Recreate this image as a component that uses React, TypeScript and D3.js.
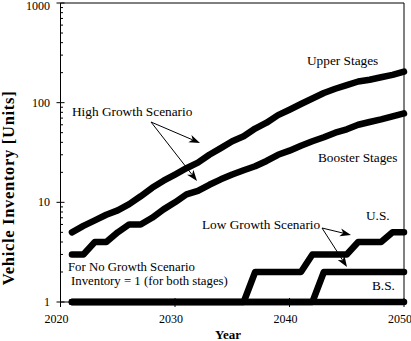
import React from "react";
import * as d3 from "d3";

const years = d3.range(2021, 2051);
const upperStages = [5, 5.8, 6.6, 7.5, 8.3, 9.6, 11.5, 14, 16.5, 19, 22, 25, 30, 35, 41, 46, 55, 63, 75, 85, 97, 110, 125, 138, 150, 163, 170, 180, 190, 205];
const boosterStages = [3, 3, 4, 4, 5, 6, 6, 7, 8.5, 10, 12, 13, 15, 17, 19, 21, 23, 26, 30, 33, 37, 41, 45, 50, 54, 60, 64, 68, 73, 78];
const lowUS = [1, 1, 1, 1, 1, 1, 1, 1, 1, 1, 1, 1, 1, 1, 1, 1, 2, 2, 2, 2, 2, 3, 3, 3, 3, 4, 4, 4, 5, 5];
const lowBS = [1, 1, 1, 1, 1, 1, 1, 1, 1, 1, 1, 1, 1, 1, 1, 1, 1, 1, 1, 1, 1, 1, 2, 2, 2, 2, 2, 2, 2, 2];
const noGrowth = years.map(() => 1);
const xTicks = [2020, 2030, 2040, 2050];
const yTicks = [1, 10, 100, 1000];

const W = 411, H = 341;
const L = 60.5, R = 404, T = 3, B = 302;
const FONT = "Liberation Serif";

function Arrow({ x1, y1, x2, y2 }: { x1: number; y1: number; x2: number; y2: number }) {
  const dx = x2 - x1, dy = y2 - y1;
  const len = Math.hypot(dx, dy);
  const ux = dx / len, uy = dy / len;
  const px = -uy, py = ux;
  const hl = 11, hw = 4, notch = 3;
  const bx = x2 - ux * hl, by = y2 - uy * hl;
  const nx = x2 - ux * (hl - notch), ny = y2 - uy * (hl - notch);
  const pts = [
    [x2, y2],
    [bx + px * hw, by + py * hw],
    [nx, ny],
    [bx - px * hw, by - py * hw],
  ];
  return (
    <g>
      <line x1={x1} y1={y1} x2={nx} y2={ny} stroke="#000" strokeWidth={1} />
      <polygon points={pts.map((p) => p.join(",")).join(" ")} fill="#000" />
    </g>
  );
}

function Txt(props: { x: number; y: number; anchor?: string; size?: number; bold?: boolean; spacing?: number; transform?: string; children: React.ReactNode }) {
  return (
    <text
      x={props.x}
      y={props.y}
      transform={props.transform}
      textAnchor={props.anchor || "start"}
      style={{
        fontFamily: `"${FONT}"`,
        fontSize: `${props.size || 13.3}px`,
        fontWeight: props.bold ? "bold" : "normal",
        letterSpacing: props.spacing ? `${props.spacing}px` : undefined,
      }}
    >
      {props.children}
    </text>
  );
}

export default function App() {
  const x = d3.scaleLinear().domain([2020, 2050]).range([L, R]);
  const y = d3.scaleLog().domain([1, 1000]).range([B, T]);
  const line = d3
    .line<number>()
    .x((_, i) => x(years[i]))
    .y((d) => y(d));

  const minor: number[] = [];
  [1, 10, 100].forEach((d) => {
    for (let k = 2; k <= 9; k++) minor.push(d * k);
  });

  const series = [noGrowth, lowBS, lowUS, boosterStages, upperStages];

  return (
    <svg width={W} height={H} style={{ position: "absolute", left: 0, top: 0, background: "#fff" }}>
      <rect x={0} y={0} width={W} height={H} fill="#fff" />
      <line x1={L} y1={T} x2={R} y2={T} stroke="#000" />
      <line x1={R} y1={T} x2={R} y2={B} stroke="#000" />
      <line x1={L} y1={T} x2={L} y2={B} stroke="#000" />
      <line x1={L} y1={B} x2={R} y2={B} stroke="#000" />
      {yTicks.map((t) => (
        <g key={t}>
          <line x1={L - 4} x2={L + 4} y1={y(t)} y2={y(t)} stroke="#000" />
          <Txt x={50} y={Math.max(y(t) + 4, 10)} anchor="end" size={12}>{t}</Txt>
        </g>
      ))}
      {minor.map((t) => (
        <line key={t} x1={L} x2={L + 2.5} y1={y(t)} y2={y(t)} stroke="#000" />
      ))}
      {xTicks.map((t) => (
        <g key={t}>
          <line x1={x(t)} x2={x(t)} y1={B - 4} y2={B + 5} stroke="#000" />
          <Txt x={x(t) - 4} y={323} anchor="middle" size={12}>{t}</Txt>
        </g>
      ))}
      {series.map((s, i) => (
        <path
          key={i}
          d={line(s) || ""}
          fill="none"
          stroke="#000"
          strokeWidth={6.5}
          strokeLinecap="round"
          strokeLinejoin="round"
        />
      ))}
      <Txt x={307} y={64.5}>Upper Stages</Txt>
      <Txt x={318} y={162}>Booster Stages</Txt>
      <Txt x={72} y={116}>High Growth Scenario</Txt>
      <Txt x={202} y={228.5}>Low Growth Scenario</Txt>
      <Txt x={366} y={219.5}>U.S.</Txt>
      <Txt x={372} y={289.5}>B.S.</Txt>
      <Txt x={68} y={271} size={12.8}>For No Growth Scenario</Txt>
      <Txt x={71} y={285} size={12.8}>Inventory = 1 (for both stages)</Txt>
      <Arrow x1={151} y1={122} x2={200} y2={143} />
      <Arrow x1={151} y1={122} x2={197} y2={181} />
      <Arrow x1={322} y1={228} x2={351} y2={235} />
      <Arrow x1={322} y1={228} x2={347} y2={267} />
      <Txt x={228} y={339} anchor="middle" size={13} bold>Year</Txt>
      <Txt x={0} y={0} transform="translate(13.5,188) rotate(-90)" anchor="middle" size={16.5} bold spacing={0.7}>
        Vehicle Inventory [Units]
      </Txt>
    </svg>
  );
}
